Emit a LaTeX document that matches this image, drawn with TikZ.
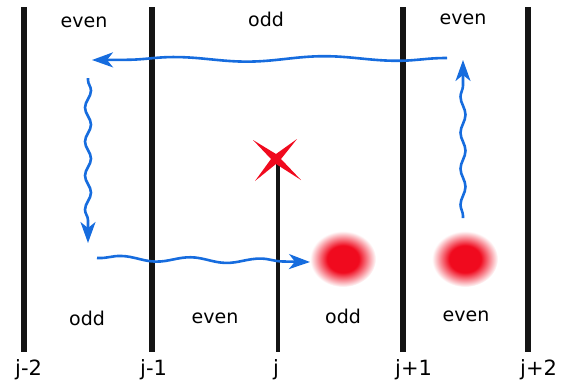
\documentclass[tikz,border=0pt]{standalone}
\usepackage{fontspec}
\setmainfont{DejaVu Sans}
\usetikzlibrary{arrows.meta,decorations.pathmorphing}
\definecolor{wblue}{RGB}{22,108,222}
\definecolor{sred}{RGB}{240,10,30}
\pgfdeclareradialshading{blobshade}{\pgfpoint{0bp}{0bp}}{color(0bp)=(sred); color(12bp)=(sred); color(25bp)=(white); color(50bp)=(white)}
\tikzset{
  site/.style={line width=6pt, black!92},
  lab/.style={font=\fontsize{19}{21}\selectfont, inner sep=0pt},
  idx/.style={font=\fontsize{21}{23}\selectfont, inner sep=0pt, anchor=base west},
  wave/.style={wblue, line width=2.6pt,
    -{Stealth[length=21pt,width=15pt,inset=6pt]},
    decorate, decoration={snake, amplitude=#1, post length=20pt, pre length=2pt}},
}
\begin{document}
\begin{tikzpicture}[x=1pt,y=-1pt]
\useasboundingbox (0,0) rectangle (573,386);
% blobs
\foreach \n/\x in {p1/343,p2/465}{
  \coordinate (\n) at (\x,259);
  \shade[shading=blobshade] (\n) ellipse [x radius=33, y radius=28];
}
% site lines
\foreach \n/\x in {a/24,b/152,d/403,e/528}{
  \coordinate (\n top) at (\x,7);
  \coordinate (\n bot) at (\x,352);
  \draw[site] (\n top) -- (\n bot);
}
\coordinate (c top) at (278,160);
\coordinate (c bot) at (278,352);
\draw[black!92, line width=4pt] (c top) -- (c bot);
% labels
\node[idx] (la) at (15,375) {j-2};
\node[idx] (lb) at (140,375) {j-1};
\node[idx] (lc) at (273,375) {j};
\node[idx] (ld) at (395,375) {j+1};
\node[idx] (le) at (520,375) {j+2};
% parities
\node[lab] (t1) at (84,22) {even};
\node[lab] (t2) at (266,19) {odd};
\node[lab] (t3) at (463,19) {even};
\node[lab] (b1) at (87,318) {odd};
\node[lab] (b2) at (215,318) {even};
\node[lab] (b3) at (343,316) {odd};
\node[lab] (b4) at (466,316) {even};
% star
\coordinate (st) at (276,159);
\fill[sred] (st) +(-23,-19) -- +(0,-5) -- +(21,-20) -- +(5,0) -- +(25,21)
  -- +(0,5) -- +(-21,22) -- +(-5,0) -- cycle;
% wavy arrows
\coordinate (w1s) at (447,58);
\coordinate (w1e) at (92,60);
\coordinate (w2s) at (88,78);
\coordinate (w2e) at (88,243);
\coordinate (w3s) at (97,258);
\coordinate (w3e) at (310,262);
\coordinate (w4s) at (463,218);
\coordinate (w4e) at (463,60);
\draw[wave=2.5pt, decoration={segment length=150pt}] (w1s) -- (w1e);
\draw[wave=3pt, decoration={segment length=34pt}] (w2s) -- (w2e);
\draw[wave=2.5pt, decoration={segment length=70pt}] (w3s) -- (w3e);
\draw[wave=2.5pt, decoration={segment length=36pt}] (w4s) -- (w4e);
\end{tikzpicture}
\end{document}
